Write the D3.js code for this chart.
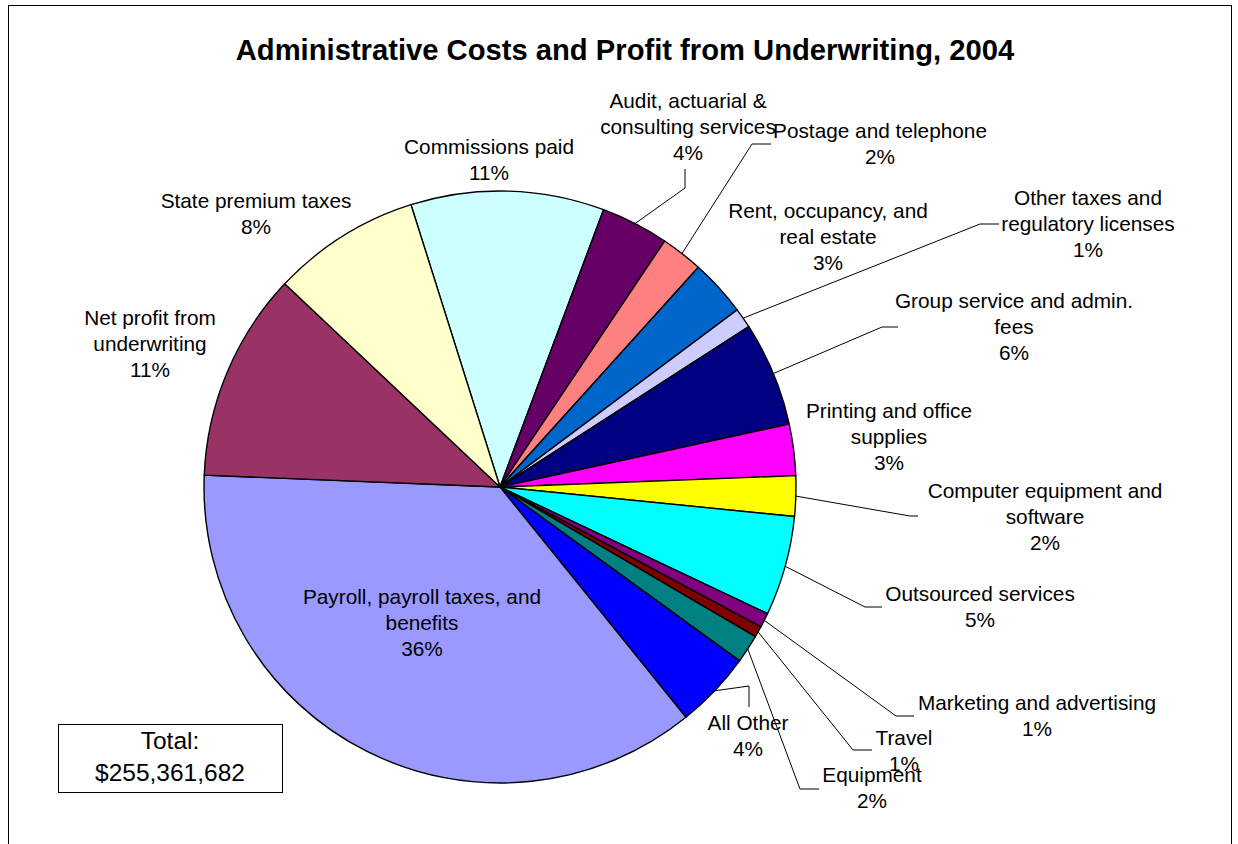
<!DOCTYPE html>
<html>
<head>
<meta charset="utf-8">
<script src="https://cdn.jsdelivr.net/npm/d3@7"></script>
<style>
  html, body { margin: 0; padding: 0; background: #fff; }
  svg { display: block; }
  text { font-family: Arial, "Liberation Sans", sans-serif; fill: #000; }
</style>
</head>
<body>
<svg id="chart" width="1238" height="844"></svg>
<script>
// Spending categories, clockwise from "Commissions paid"
const categories = [
  "Commissions paid",
  "Audit, actuarial & consulting services",
  "Postage and telephone",
  "Rent, occupancy, and real estate",
  "Other taxes and regulatory licenses",
  "Group service and admin. fees",
  "Printing and office supplies",
  "Computer equipment and software",
  "Outsourced services",
  "Marketing and advertising",
  "Travel",
  "Equipment",
  "All Other",
  "Payroll, payroll taxes, and benefits",
  "Net profit from underwriting",
  "State premium taxes"
];

// Share of the total, in percent
const shares = [10.55, 3.7, 2.3, 3.1, 1.1, 5.7, 2.8, 2.2, 5.45, 0.8, 0.6, 1.55, 4.2, 36.45, 11.4, 8.1];

const sliceColors = [
  "#CCFFFF", "#660066", "#FF8080", "#0066CC", "#CCCCFF", "#000080",
  "#FF00FF", "#FFFF00", "#00FFFF", "#800080", "#800000", "#008080",
  "#0000FF", "#9999FF", "#993366", "#FFFFCC"
];

const chartTitle = "Administrative Costs and Profit from Underwriting, 2004";
const totalLines = ["Total:", "$255,361,682"];

// Label placement: centre x, first baseline, wrapped name lines,
// optional leader path points (after the slice edge point)
const labelLayout = [
  { x: 489, y: 154, lines: ["Commissions paid"] },
  { x: 688, y: 108, lines: ["Audit, actuarial &", "consulting services"], leader: [[685, 188], [685, 169]] },
  { x: 880, y: 138, lines: ["Postage and telephone"], leader: [[752, 144], [771, 144]] },
  { x: 828, y: 218, lines: ["Rent, occupancy, and", "real estate"] },
  { x: 1088, y: 205, lines: ["Other taxes and", "regulatory licenses"], leader: [[980, 224], [999, 224]] },
  { x: 1014, y: 308, lines: ["Group service and admin.", "fees"], leader: [[882, 327], [898, 327]] },
  { x: 889, y: 418, lines: ["Printing and office", "supplies"] },
  { x: 1045, y: 498, lines: ["Computer equipment and", "software"], leader: [[910, 516], [918, 516]] },
  { x: 980, y: 601, lines: ["Outsourced services"], leader: [[865, 607], [882, 607]] },
  { x: 1037, y: 710, lines: ["Marketing and advertising"], leader: [[896, 716], [914, 716]] },
  { x: 904, y: 745, lines: ["Travel"], leader: [[853, 750], [872, 750]] },
  { x: 872, y: 782, lines: ["Equipment"], leader: [[800, 789], [819, 789]] },
  { x: 748, y: 730, lines: ["All Other"], leader: [[749, 686], [749, 707]] },
  { x: 422, y: 604, lines: ["Payroll, payroll taxes, and", "benefits"] },
  { x: 150, y: 325, lines: ["Net profit from", "underwriting"] },
  { x: 256, y: 208, lines: ["State premium taxes"] }
];

const svg = d3.select("#chart");
const cx = 500, cy = 487, R = 296;
const lineH = 25.8;
const deg = Math.PI / 180;

// Chart frame
svg.append("rect")
  .attr("x", 8.5).attr("y", 5.5)
  .attr("width", 1223).attr("height", 900)
  .attr("fill", "#fff").attr("stroke", "#000").attr("stroke-width", 1);

// Title
svg.append("text")
  .attr("x", 625).attr("y", 60)
  .attr("text-anchor", "middle")
  .style("font-weight", "bold")
  .style("font-size", "29.2px")
  .text(chartTitle);

const data = categories.map((c, i) => ({ name: c, value: shares[i], color: sliceColors[i], layout: labelLayout[i] }));
const total = d3.sum(shares);

const start = -17.5 * deg;
const pie = d3.pie().sort(null).value(d => d.value)
  .startAngle(start).endAngle(start + 2 * Math.PI);
const arcs = pie(data);

const arc = d3.arc().innerRadius(0).outerRadius(R);

const g = svg.append("g").attr("transform", `translate(${cx},${cy})`);

g.selectAll("path.slice")
  .data(arcs)
  .join("path")
  .attr("class", "slice")
  .attr("d", arc)
  .attr("fill", d => d.data.color)
  .attr("stroke", "#000")
  .attr("stroke-width", 1.4)
  .attr("stroke-linejoin", "round");

// Leader lines: from the slice's outer edge at its mid-angle to the label
const line = d3.line();
arcs.forEach(a => {
  const L = a.data.layout;
  if (!L.leader) return;
  const mid = (a.startAngle + a.endAngle) / 2;
  const p0 = [cx + R * Math.sin(mid), cy - R * Math.cos(mid)];
  svg.append("path")
    .attr("d", line([p0, ...L.leader]))
    .attr("fill", "none")
    .attr("stroke", "#000")
    .attr("stroke-width", 1);
});

// Category labels with percentages
const pct = v => Math.round(v / total * 100) + "%";
arcs.forEach(a => {
  const L = a.data.layout;
  const t = svg.append("text")
    .attr("text-anchor", "middle")
    .style("font-size", "20.8px");
  const rows = [...L.lines, pct(a.data.value)];
  rows.forEach((r, i) => {
    t.append("tspan")
      .attr("x", L.x)
      .attr("y", L.y + i * lineH)
      .text(r);
  });
});

// Total box
svg.append("rect")
  .attr("x", 58.5).attr("y", 724.5)
  .attr("width", 224).attr("height", 68)
  .attr("fill", "#fff").attr("stroke", "#000").attr("stroke-width", 1);
const tt = svg.append("text").attr("text-anchor", "middle").style("font-size", "24.5px");
totalLines.forEach((s, i) => {
  tt.append("tspan").attr("x", 170).attr("y", 749 + i * 31.5).text(s);
});
</script>
</body>
</html>
